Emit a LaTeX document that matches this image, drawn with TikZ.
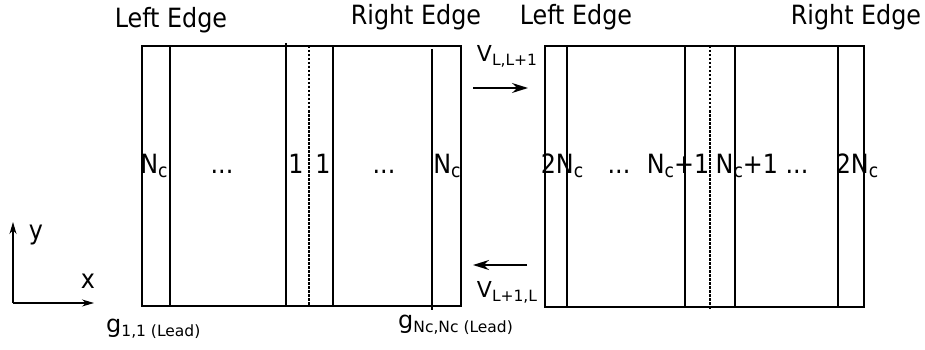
\documentclass[tikz,border=0pt]{standalone}
\usepackage{fontspec}
\setmainfont{DejaVu Sans Condensed}
\newfontfamily\widefont{DejaVu Sans}
\usetikzlibrary{arrows.meta,positioning}
\newcommand{\lowsub}[2][17]{\raisebox{-4pt}{\fontsize{#1}{#1}\selectfont #2}}

\begin{document}
\begin{tikzpicture}[x=1pt,y=-1pt,font=\fontsize{26.5}{30}\selectfont]
\useasboundingbox (0,0) rectangle (925,350);
\tikzset{lbl/.style={inner sep=0pt,anchor=base},cell/.style={line width=1.6pt},slab/.style={line width=2.3pt},
  mid/.style={line width=1.2pt,dash pattern=on 2.5pt off 1.5pt},
  vlbl/.style={lbl,font=\widefont\fontsize{22}{26}\selectfont},glbl/.style={lbl,anchor=base west,font=\widefont\fontsize{24}{28}\selectfont}}
\draw[slab] (142,46) rectangle (461,306);
\draw[cell] (170,46) -- (170,306);
\draw[cell] (286,43) -- (286,305);
\draw[mid] (309,46) -- (309,306);
\draw[cell] (333,46) -- (333,306);
\draw[cell] (432,49) -- (432,310);
\draw[slab] (545,46) rectangle (864,307);
\draw[cell] (567,46) -- (567,307);
\draw[cell] (685,46) -- (685,307);
\draw[mid] (710,46) -- (710,310);
\draw[cell] (735,46) -- (735,307);
\draw[cell] (838,46) -- (838,307);
\node[lbl] (le1) at (171,28) {Left Edge};
\node[lbl] (re1) at (416,25) {Right Edge};
\node[lbl] (le2) at (576,25) {Left Edge};
\node[lbl] (re2) at (856,25) {Right Edge};
\node[lbl] (a1) at (154,173) {N\lowsub[19]{c}};
\node[lbl] (a2) at (222,173) {...};
\node[lbl] (a3) at (296,173) {1};
\node[lbl] (a4) at (323,173) {1};
\node[lbl] (a5) at (384,173) {...};
\node[lbl] (a6) at (447,173) {N\lowsub[19]{c}};
\node[lbl] (b1) at (562,173) {2N\lowsub[19]{c}};
\node[lbl] (b2) at (619,173) {...};
\node[lbl] (b3) at (678,173) {N\lowsub[19]{c}+1};
\node[lbl] (b4) at (762,173) {N\lowsub[19]{c}+1 ...};
\node[lbl] (b5) at (857,173) {2N\lowsub[19]{c}};
\node[vlbl] (v1) at (507,62) {V\lowsub[15.5]{L,L+1}};
\node[vlbl] (v2) at (507,297) {V\lowsub[15.5]{L+1,L}};
\coordinate (p1) at (473,88);
\coordinate (q1) at (528,88);
\coordinate (p2) at (527,265);
\coordinate (q2) at (473,265);
\draw[-{Stealth[length=16pt,width=10pt]},line width=1.4pt] (p1) -- (q1);
\draw[-{Stealth[length=16pt,width=10pt]},line width=1.4pt] (p2) -- (q2);
\node[glbl] (g1) at (106,332) {g\lowsub[15.5]{1,1 (Lead)}};
\node[glbl] (g2) at (398,328) {g\lowsub[15.5]{Nc,Nc (Lead)}};
\coordinate (o) at (13,303);
\coordinate (ya) at (13,222);
\coordinate (xa) at (94,303);
\draw[-{Stealth[length=12pt,width=7pt]},line width=1.1pt] (o) -- (ya);
\draw[-{Stealth[length=12pt,width=7pt]},line width=1.1pt] (o) -- (xa);
\node[lbl] (ylab) at (36,239) {y};
\node[lbl] (xlab) at (88,288) {x};
\end{tikzpicture}
\end{document}
